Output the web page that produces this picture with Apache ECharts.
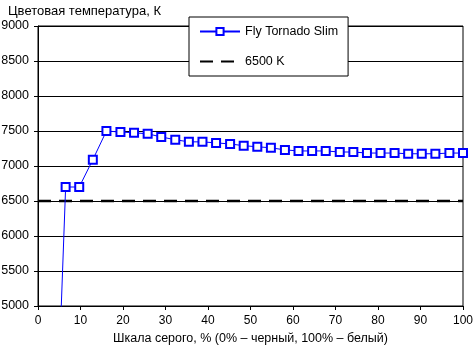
<!DOCTYPE html>
<html><head><meta charset="utf-8">
<script src="https://cdn.jsdelivr.net/npm/echarts@6/dist/echarts.min.js"></script>
<style>html,body{margin:0;padding:0;background:#fff}#c{width:473px;height:349px}</style>
</head><body><div id="c"></div>
<script>
const grayLevels = [3.2, 6.5, 9.7, 12.9, 16.1, 19.4, 22.6, 25.8, 29.0, 32.3, 35.5, 38.7, 41.9, 45.2, 48.4, 51.6, 54.8, 58.1, 61.3, 64.5, 67.7, 71.0, 74.2, 77.4, 80.6, 83.9, 87.1, 90.3, 93.5, 96.8, 100];
const colorTemp = [1200, 6700, 6700, 7090, 7500, 7485, 7475, 7460, 7415, 7375, 7345, 7345, 7330, 7315, 7290, 7275, 7260, 7230, 7215, 7215, 7215, 7200, 7200, 7185, 7185, 7185, 7175, 7175, 7175, 7185, 7185];
const refX = [0, 100];
const refY = [6500, 6500];
const seriesNames = ['Fly Tornado Slim', '6500 K'];
const yTitle = 'Цветовая температура, К';
const xTitle = 'Шкала серого, % (0% – черный, 100% – белый)';

const font = 'Liberation Sans, Arial, sans-serif';
const chart = echarts.init(document.getElementById('c'), null, {renderer: 'canvas'});
chart.setOption({
  animation: false,
  backgroundColor: '#fff',
  textStyle: {fontFamily: font, color: '#000'},
  title: {text: yTitle, left: 3, top: 0, textStyle: {fontFamily: font, fontSize: 13, fontWeight: 'normal', color: '#000'}},
  grid: {left: 38, right: 10, top: 26, bottom: 43, containLabel: false, outerBoundsMode: 'none', show: true, borderColor: '#000', borderWidth: 1},
  legend: {
    orient: 'vertical', left: 189, top: 17,
    backgroundColor: '#fff', borderColor: '#000', borderWidth: 1,
    padding: [8, 10, 8, 10], itemGap: 17, itemWidth: 40, itemHeight: 9,
    textStyle: {fontFamily: font, fontSize: 12.5, color: '#000'},
    data: [
      {name: seriesNames[0]},
      {name: seriesNames[1], itemStyle: {color: 'rgba(0,0,0,0)', borderWidth: 0, opacity: 0}}
    ]
  },
  xAxis: {
    type: 'value', min: 0, max: 100, interval: 10,
    name: xTitle, nameLocation: 'middle', nameGap: 26,
    nameTextStyle: {fontFamily: font, fontSize: 12.5, color: '#000'},
    axisLine: {lineStyle: {color: '#000', width: 1}},
    axisTick: {show: true, length: 4, lineStyle: {color: '#000'}},
    axisLabel: {fontFamily: font, fontSize: 12, color: '#000', margin: 9},
    splitLine: {show: false}
  },
  yAxis: {
    type: 'value', min: 5000, max: 9000, interval: 500,
    axisLine: {show: true, lineStyle: {color: '#000', width: 1}},
    axisTick: {show: true, length: 4, lineStyle: {color: '#000'}},
    axisLabel: {fontFamily: font, fontSize: 12.5, color: '#000', margin: 9, formatter: v => String(v)},
    splitLine: {show: true, lineStyle: {color: '#000', width: 1}}
  },
  series: [
    {
      name: seriesNames[1], type: 'line', z: 2,
      data: refX.map((x, i) => [x, refY[i]]),
      symbol: 'none', clip: true,
      lineStyle: {color: '#000', width: 2.5, type: [13, 8]},
      itemStyle: {color: '#000'}
    },
    {
      name: seriesNames[0], type: 'line', z: 3,
      data: grayLevels.map((x, i) => [x, colorTemp[i]]),
      symbol: 'emptyRect', symbolSize: 8, clip: true,
      lineStyle: {color: '#0000ff', width: 1},
      itemStyle: {color: '#0000ff', borderColor: '#0000ff', borderWidth: 1.4}
    }
  ]
});
</script></body></html>
